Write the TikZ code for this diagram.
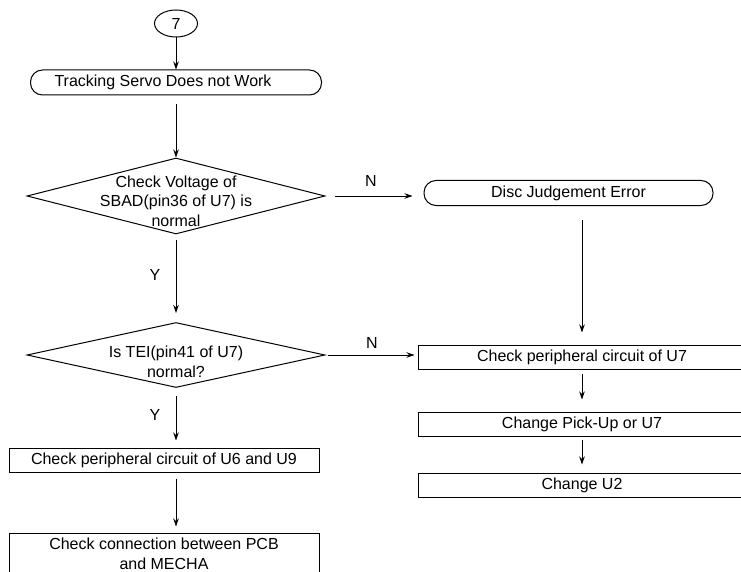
\documentclass[tikz,border=0pt]{standalone}
\usepackage{fontspec}
\setmainfont{Liberation Sans}
\usetikzlibrary{shapes.geometric,arrows.meta}

\begin{document}
\begin{tikzpicture}[font=\fontsize{16}{19.5}\selectfont,>={Stealth[length=8pt,width=5.5pt]},x=1pt,y=-1pt]
    \tikzset{
        terminal/.style={
            draw,line width=1pt,rounded corners=12pt,
            minimum height=25pt,inner sep=0pt
        },
        process/.style={
            draw,line width=1pt,minimum height=24pt,inner sep=0pt,align=center
        },
        decision/.style={
            draw,line width=1pt,diamond,inner sep=0pt
        },
        flow/.style={->,line width=0.9pt}
    }
    \clip (0,0) rectangle (741,572);

    \node[draw,line width=1pt,ellipse,minimum width=43pt,minimum height=27pt,inner sep=0pt]
        (start) at (176,23.5) {7};
    \node[terminal,minimum width=291pt] (servo) at (176,82.5)
        {Tracking Servo Does not Work\hspace*{26pt}};
    \draw[flow] (start.south) -- (servo.north);

    \node[decision,minimum width=298pt,minimum height=76pt] (sbad) at (176,196) {};
    \node[align=center,inner sep=0pt] (sbadtext) at (176,201)
        {Check Voltage of\\ SBAD(pin36 of U7) is\\ normal};
    \draw[flow,shorten <=9pt] (servo.south) -- (sbad.north);

    \node[terminal,minimum width=289pt] (disc) at (568.5,193)
        {Disc Judgement Error};
    \draw[flow,shorten <=9pt,shorten >=11pt] (sbad.east) -- (sbad.east -| disc.west);
    \node (n1) at (371,181) {N};

    \node[decision,minimum width=298pt,minimum height=65pt] (tei) at (176,355) {};
    \node[align=center,inner sep=0pt] (teitext) at (176,362)
        {Is TEI(pin41 of U7)\\ normal?};
    \draw[flow,shorten <=5pt,shorten >=9pt] (sbad.south) -- (tei.north);
    \node (y1) at (155,275) {Y};

    \node[process,minimum width=328pt] (chk7) at (582,357)
        {Check peripheral circuit of U7};
    \draw[flow,shorten <=2pt,shorten >=3pt] (tei.east) -- (tei.east -| chk7.west);
    \node (n2) at (372,343) {N};
    \draw[flow,shorten <=14pt,shorten >=12pt] (disc.south -| chk7.north) -- (chk7.north);

    \node[process,minimum width=328pt] (pickup) at (582,424)
        {Change Pick-Up or U7};
    \draw[flow,shorten <=4pt,shorten >=12pt] (chk7.south) -- (pickup.north);

    \node[process,minimum width=328pt] (chgu2) at (582,485)
        {Change U2};
    \draw[flow,shorten <=3pt,shorten >=8pt] (pickup.south) -- (chgu2.north);

    \node[process,minimum width=310pt] (u6u9) at (164,460)
        {Check peripheral circuit of U6 and U9};
    \draw[flow,shorten <=8pt,shorten >=7pt] (tei.south) -- (tei.south |- u6u9.north);
    \node (y2) at (155,415) {Y};

    \node[process,minimum width=310pt,minimum height=42pt] (pcb) at (164,554)
        {Check connection between PCB\\ and MECHA};
    \draw[flow,shorten <=6pt,shorten >=6pt] (u6u9.south -| tei.south) -- (tei.south |- pcb.north);
\end{tikzpicture}
\end{document}
